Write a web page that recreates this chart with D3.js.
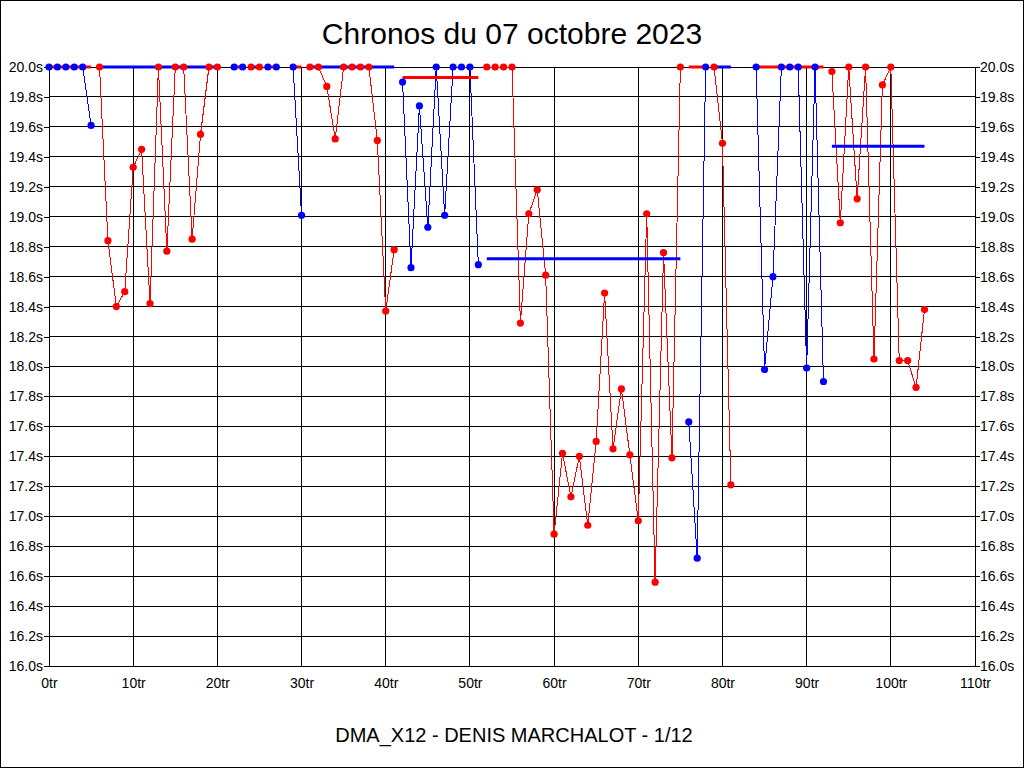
<!DOCTYPE html>
<html>
<head>
<meta charset="utf-8">
<script src="https://cdn.jsdelivr.net/npm/d3@7"></script>
<style>
body { margin: 0; background: #fff; }
svg { display: block; font-family: "Liberation Sans", Arial, sans-serif; }
</style>
</head>
<body>
<div id="chart"></div>
<script>
// lap times in seconds, one per lap (index = lap number), null = lap not plotted
// values above 20s are shown clamped at 20.0
const times = [
    20.0, 20.0, 20.0, 20.0, 20.0, 19.61, 20.0, 18.84, 18.40, 18.50,
    19.33, 19.45, 18.42, 20.0, 18.77, 20.0, 20.0, 18.85, 19.55, 20.0,
    20.0, null, 20.0, 20.0, 20.0, 20.0, 20.0, 20.0, null, 20.0,
    19.01, 20.0, 20.0, 19.87, 19.52, 20.0, 20.0, 20.0, 20.0, 19.51,
    18.37, 18.78, 19.90, 18.66, 19.74, 18.93, 20.0, 19.01, 20.0, 20.0,
    20.0, 18.68, 20.0, 20.0, 20.0, 20.0, 18.29, 19.02, 19.18, 18.61,
    16.88, 17.42, 17.13, 17.40, 16.94, 17.50, 18.49, 17.45, 17.85, 17.41,
    16.97, 19.02, 16.56, 18.76, 17.39, 20.0, 17.63, 16.72, 20.0, 20.0,
    19.49, 17.21, null, null, 20.0, 17.98, 18.60, 20.0, 20.0, 20.0,
    17.99, 20.0, 17.90, 19.97, 18.96, 20.0, 19.12, 20.0, 18.05, 19.88,
    20.0, 18.04, 18.04, 17.86, 18.38
];

// stints: first lap, last lap, colour of the laps, average shown (clamped at 20)
const groupFirst = [0, 6, 22, 24, 26, 29, 31, 42, 52, 76, 79, 84, 93];
const groupLast  = [5, 20, 23, 25, 27, 30, 41, 51, 75, 78, 81, 92, 104];
const groupColor = ["blue", "red", "blue", "red", "blue", "blue", "red", "blue", "red", "blue", "red", "blue", "red"];
const groupAvg   = [20.0, 20.0, 20.0, 20.0, 20.0, 20.0, 20.0, 19.93, 18.72, 20.0, 20.0, 20.0, 19.47];

const xTicks = [0, 10, 20, 30, 40, 50, 60, 70, 80, 90, 100, 110];
const yTicks = [16.0, 16.2, 16.4, 16.6, 16.8, 17.0, 17.2, 17.4, 17.6, 17.8,
                18.0, 18.2, 18.4, 18.6, 18.8, 19.0, 19.2, 19.4, 19.6, 19.8, 20.0];

const title = "Chronos du 07 octobre 2023";
const footer = "DMA_X12 - DENIS MARCHALOT - 1/12";

const width = 1024;
const height = 768;

const svg = d3.select("#chart").append("svg")
    .attr("width", width)
    .attr("height", height);

// frame round the whole picture
svg.append("rect")
    .attr("x", 0.5).attr("y", 0.5)
    .attr("width", width - 1).attr("height", height - 1)
    .attr("fill", "#fff").attr("stroke", "#000");

const x = d3.scaleLinear().domain([0, 110]).range([49, 975]);
const y = d3.scaleLinear().domain([16, 20]).range([666, 67]);

// grid
const grid = svg.append("g").attr("shape-rendering", "crispEdges").attr("stroke", "#000");
grid.selectAll(".hg").data(yTicks).enter().append("line")
    .attr("x1", x(0)).attr("x2", x(110))
    .attr("y1", d => y(d)).attr("y2", d => y(d));
grid.selectAll(".vg").data(xTicks).enter().append("line")
    .attr("x1", d => x(d)).attr("x2", d => x(d))
    .attr("y1", y(16)).attr("y2", y(20));

// axes
const fmt = d => d3.format(".1f")(d) + "s";
const styleAxis = g => {
    g.select(".domain").remove();
    g.selectAll("line").attr("stroke", "#000").attr("shape-rendering", "crispEdges");
    g.selectAll("text").attr("font-size", 14).attr("fill", "#000")
        .attr("font-family", "\"Liberation Sans\", Arial, sans-serif");
};
svg.append("g").attr("transform", "translate(" + x(0) + ",0)")
    .call(d3.axisLeft(y).tickValues(yTicks).tickFormat(fmt).tickSize(5).tickPadding(1))
    .call(styleAxis);
svg.append("g").attr("transform", "translate(" + x(110) + ",0)")
    .call(d3.axisRight(y).tickValues(yTicks).tickFormat(fmt).tickSize(5).tickPadding(0))
    .call(styleAxis);
svg.append("g").attr("transform", "translate(0," + y(16) + ")")
    .call(d3.axisBottom(x).tickValues(xTicks).tickFormat(d => d + "tr").tickSize(0).tickPadding(12))
    .call(styleAxis);

// stints
const line = d3.line()
    .defined(d => d.t !== null)
    .x(d => x(d.lap))
    .y(d => y(d.t));

const other = c => (c === "blue" ? "red" : "blue");

groupFirst.forEach((first, i) => {
    const last = groupLast[i];
    const col = groupColor[i] === "blue" ? "#0000ff" : "#ff0000";
    const avgCol = other(groupColor[i]) === "blue" ? "#0000ff" : "#ff0000";
    const pts = [];
    for (let lap = first; lap <= last; lap++) {
        pts.push({ lap: lap, t: times[lap] });
    }
    const g = svg.append("g");
    g.append("path")
        .datum(pts)
        .attr("d", line)
        .attr("fill", "none")
        .attr("stroke", col)
        .attr("stroke-width", 1)
        .attr("shape-rendering", "crispEdges");
    g.append("line")
        .attr("x1", x(first)).attr("x2", x(last))
        .attr("y1", y(groupAvg[i])).attr("y2", y(groupAvg[i]))
        .attr("stroke", avgCol)
        .attr("stroke-width", 3);
    g.selectAll("circle")
        .data(pts.filter(d => d.t !== null))
        .enter().append("circle")
        .attr("cx", d => x(d.lap))
        .attr("cy", d => y(d.t))
        .attr("r", 3.6)
        .attr("fill", col);
});

// texts
svg.append("text")
    .attr("x", 512).attr("y", 44)
    .attr("text-anchor", "middle")
    .attr("font-size", 30)
    .text(title);

svg.append("text")
    .attr("x", 514).attr("y", 742)
    .attr("text-anchor", "middle")
    .attr("font-size", 20)
    .text(footer);
</script>
</body>
</html>
